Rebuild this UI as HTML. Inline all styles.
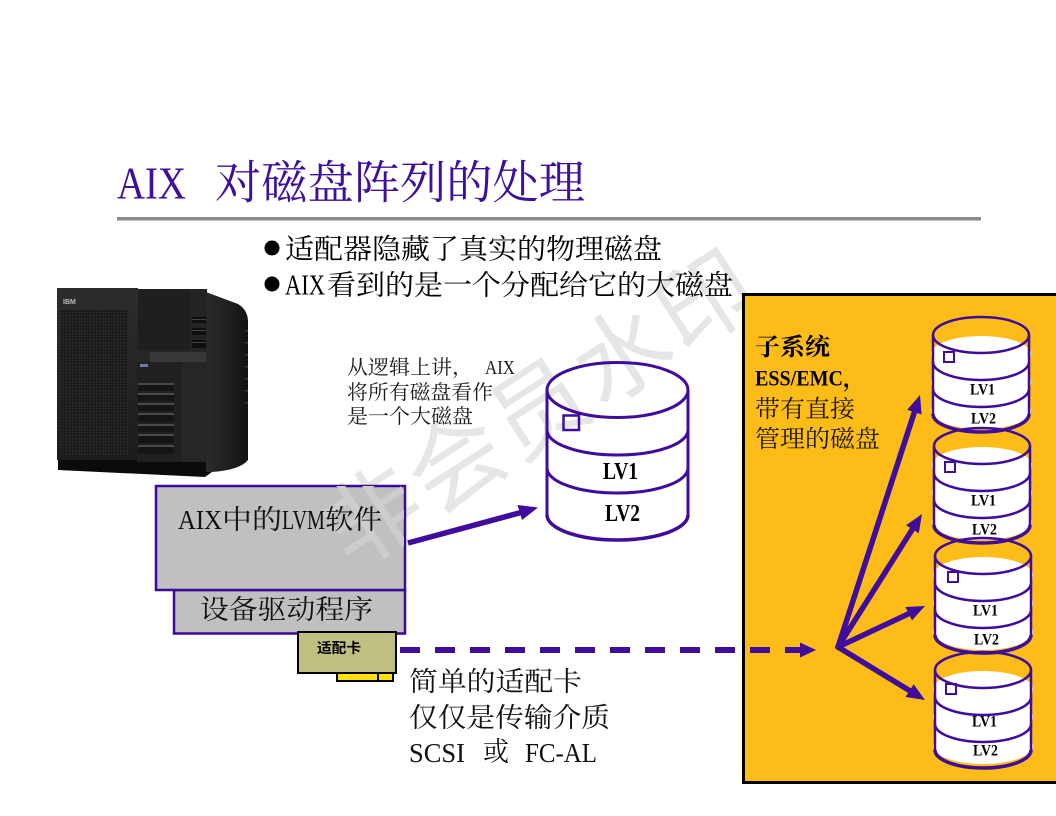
<!DOCTYPE html>
<html><head><meta charset="utf-8"><style>
html,body{margin:0;padding:0;background:#fff;}
svg{display:block}
</style></head><body>
<svg width="1056" height="816" viewBox="0 0 1056 816" xmlns="http://www.w3.org/2000/svg">
<defs>
 <pattern id="grille" width="3" height="3" patternUnits="userSpaceOnUse"><rect width="3" height="3" fill="#1b1b1b"/><rect width="1.5" height="1.5" fill="#2f2f2f"/></pattern>
 <clipPath id="boxclip"><rect x="156" y="486" width="248" height="147"/></clipPath>
 <linearGradient id="side" x1="0" x2="1"><stop offset="0" stop-color="#2b2b2b"/><stop offset="0.6" stop-color="#1e1e1e"/><stop offset="1" stop-color="#111"/></linearGradient>
 <linearGradient id="front" x1="0" x2="0" y1="0" y2="1"><stop offset="0" stop-color="#2c2c2c"/><stop offset="1" stop-color="#1c1c1c"/></linearGradient>
</defs>

<!-- watermark (background) -->
<text transform="translate(537,402) rotate(-33)" text-anchor="middle" dominant-baseline="central" font-family="'Noto Sans CJK SC',sans-serif" font-size="95" letter-spacing="4" fill="#e6e6e6">非会员水印</text>

<!-- title -->
<text x="117" y="183" dominant-baseline="central" font-family="'Liberation Serif',serif" font-size="46" fill="#3d0f9c" textLength="69" lengthAdjust="spacingAndGlyphs">AIX</text>
<text x="215" y="183" dominant-baseline="central" font-family="'Liberation Serif','Noto Serif CJK SC',serif" font-size="46" fill="#3d0f9c" textLength="370" lengthAdjust="spacingAndGlyphs">对磁盘阵列的处理</text>
<rect x="117" y="217" width="864" height="3.5" fill="#8a8a8a"/>

<!-- bullets -->
<circle cx="272" cy="248" r="7.5" fill="#000"/>
<text x="285" y="250" dominant-baseline="central" font-family="'Liberation Serif','Noto Serif CJK SC',serif" font-size="28" fill="#000" textLength="377" lengthAdjust="spacingAndGlyphs">适配器隐藏了真实的物理磁盘</text>
<circle cx="272" cy="284" r="7.5" fill="#000"/>
<text x="285" y="286" dominant-baseline="central" font-family="'Liberation Serif',serif" font-size="28" fill="#000" textLength="40" lengthAdjust="spacingAndGlyphs">AIX</text>
<text x="327" y="286" dominant-baseline="central" font-family="'Liberation Serif','Noto Serif CJK SC',serif" font-size="28" fill="#000" textLength="406" lengthAdjust="spacingAndGlyphs">看到的是一个分配给它的大磁盘</text>

<!-- server -->
<g>
 <path d="M58,458 L208,458 L212,472 L205,477 L58,470 Z" fill="#0b0b0b"/>
 <path d="M206,292 L238,304 Q248,310 248,322 L248,460 Q240,470 212,472 L206,472 Z" fill="url(#side)"/>
 <g fill="#3a3a3a">
  <rect x="245" y="330" width="3" height="1.5"/><rect x="245" y="342" width="3" height="1.5"/><rect x="245" y="354" width="3" height="1.5"/><rect x="245" y="366" width="3" height="1.5"/><rect x="245" y="378" width="3" height="1.5"/><rect x="245" y="390" width="3" height="1.5"/><rect x="245" y="402" width="3" height="1.5"/>
 </g>
 <rect x="57" y="288" width="81" height="172" fill="url(#front)"/>
 <rect x="60" y="310" width="68" height="145" fill="url(#grille)"/>
 <text x="63" y="304" font-family="'Liberation Sans',sans-serif" font-size="7" font-weight="bold" fill="#bbb">IBM</text>
 <rect x="138" y="289" width="52" height="61" fill="#1f1f1f"/>
 <rect x="190" y="289" width="17" height="64" fill="#232323"/>
 <rect x="192" y="317" width="14" height="6" fill="#0e0e0e"/>
 <rect x="192" y="328" width="14" height="7" fill="#0e0e0e"/>
 <rect x="192" y="340" width="14" height="8" fill="#0e0e0e"/>
 <rect x="192" y="319" width="14" height="1" fill="#444"/>
 <rect x="192" y="330" width="14" height="1" fill="#444"/>
 <rect x="192" y="342" width="14" height="1" fill="#444"/>
 <rect x="137" y="350" width="70" height="112" fill="#262626"/>
 <rect x="150" y="352" width="56" height="10" fill="#383838"/>
 <rect x="137" y="362" width="44" height="100" fill="#202020"/>
 <rect x="140" y="364" width="8" height="3" fill="#6a7aa0"/>
 <g fill="#4a4a4a">
  <rect x="138" y="383" width="36" height="2"/>
  <rect x="138" y="393" width="36" height="2"/>
  <rect x="138" y="403" width="36" height="2"/>
  <rect x="138" y="413" width="36" height="2"/>
  <rect x="138" y="424" width="36" height="2"/>
  <rect x="138" y="434" width="36" height="2"/>
  <rect x="138" y="445" width="36" height="2"/>
 </g>
 <g fill="#151515">
  <rect x="138" y="385" width="36" height="6"/>
  <rect x="138" y="395" width="36" height="6"/>
  <rect x="138" y="405" width="36" height="6"/>
  <rect x="138" y="415" width="36" height="7"/>
  <rect x="138" y="426" width="36" height="6"/>
  <rect x="138" y="436" width="36" height="7"/>
  <rect x="138" y="447" width="36" height="7"/>
 </g>
</g>

<!-- LVM box -->
<rect x="174" y="590" width="231" height="43.5" fill="#c0c0c0" stroke="#3a0a99" stroke-width="2.5"/>
<rect x="156" y="486" width="249" height="104" fill="#c0c0c0" stroke="#3a0a99" stroke-width="2.5"/>
<g clip-path="url(#boxclip)">
<text transform="translate(537,402) rotate(-33)" text-anchor="middle" dominant-baseline="central" font-family="'Noto Sans CJK SC',sans-serif" font-size="95" letter-spacing="4" fill="#cdcdcd">非会员水印</text>
</g>
<text x="178" y="520" dominant-baseline="central" font-family="'Liberation Serif',serif" font-size="27" fill="#111" textLength="44" lengthAdjust="spacingAndGlyphs">AIX</text>
<text x="222" y="520" dominant-baseline="central" font-family="'Liberation Serif','Noto Serif CJK SC',serif" font-size="27" fill="#111" textLength="60" lengthAdjust="spacingAndGlyphs">中的</text>
<text x="282" y="520" dominant-baseline="central" font-family="'Liberation Serif',serif" font-size="27" fill="#111" textLength="43" lengthAdjust="spacingAndGlyphs">LVM</text>
<text x="325" y="520" dominant-baseline="central" font-family="'Liberation Serif','Noto Serif CJK SC',serif" font-size="27" fill="#111" textLength="57" lengthAdjust="spacingAndGlyphs">软件</text>
<text x="200" y="610" dominant-baseline="central" font-family="'Liberation Serif','Noto Serif CJK SC',serif" font-size="27" fill="#111" textLength="173" lengthAdjust="spacingAndGlyphs">设备驱动程序</text>

<!-- adapter card -->
<rect x="337" y="672" width="56" height="9" fill="#ffe010" stroke="#000" stroke-width="2"/>
<line x1="378" y1="672" x2="378" y2="681" stroke="#000" stroke-width="2"/>
<rect x="298" y="632" width="98" height="41" fill="#c0c080" stroke="#000" stroke-width="2"/>
<text x="317" y="648" dominant-baseline="central" font-family="'Noto Sans CJK SC',sans-serif" font-size="14" font-weight="bold" fill="#000" textLength="44" lengthAdjust="spacingAndGlyphs">适配卡</text>

<!-- bottom texts -->
<text x="409" y="682" dominant-baseline="central" font-family="'Liberation Serif','Noto Serif CJK SC',serif" font-size="27" fill="#111" textLength="173" lengthAdjust="spacingAndGlyphs">简单的适配卡</text>
<text x="409" y="718" dominant-baseline="central" font-family="'Liberation Serif','Noto Serif CJK SC',serif" font-size="27" fill="#111" textLength="201" lengthAdjust="spacingAndGlyphs">仅仅是传输介质</text>
<text x="409" y="753" dominant-baseline="central" font-family="'Liberation Serif',serif" font-size="27" fill="#111" textLength="56" lengthAdjust="spacingAndGlyphs">SCSI</text>
<text x="483" y="752" dominant-baseline="central" font-family="'Liberation Serif','Noto Serif CJK SC',serif" font-size="27" fill="#111" textLength="26" lengthAdjust="spacingAndGlyphs">或</text>
<text x="525" y="753" dominant-baseline="central" font-family="'Liberation Serif',serif" font-size="27" fill="#111" textLength="72" lengthAdjust="spacingAndGlyphs">FC-AL</text>

<!-- logic text -->
<text x="347" y="368" dominant-baseline="central" font-family="'Liberation Serif','Noto Serif CJK SC',serif" font-size="20" fill="#1a1a1a" textLength="126" lengthAdjust="spacingAndGlyphs">从逻辑上讲，</text>
<text x="485" y="368" dominant-baseline="central" font-family="'Liberation Serif',serif" font-size="20" fill="#1a1a1a" textLength="30" lengthAdjust="spacingAndGlyphs">AIX</text>
<text x="347" y="393" dominant-baseline="central" font-family="'Liberation Serif','Noto Serif CJK SC',serif" font-size="20" fill="#1a1a1a" textLength="146" lengthAdjust="spacingAndGlyphs">将所有磁盘看作</text>
<text x="347" y="417" dominant-baseline="central" font-family="'Liberation Serif','Noto Serif CJK SC',serif" font-size="20" fill="#1a1a1a" textLength="126" lengthAdjust="spacingAndGlyphs">是一个大磁盘</text>

<!-- big disk -->
<g fill="none" stroke="#3f0c9c" stroke-width="3">
 <ellipse cx="617.5" cy="390" rx="70.5" ry="27.5"/>
 <line x1="547" y1="390" x2="547" y2="515"/>
 <line x1="688" y1="390" x2="688" y2="515"/>
 <path d="M547,430 A70.5,25 0 0,0 688,430"/>
 <path d="M547,468 A70.5,25 0 0,0 688,468"/>
 <path d="M547,515 A70.5,25 0 0,0 688,515" stroke-width="3.5"/>
 <rect x="563.5" y="415.5" width="15.5" height="14.5" stroke-width="2.5"/>
</g>
<text x="603" y="472" dominant-baseline="central" font-family="'Liberation Serif',serif" font-weight="bold" font-size="24" fill="#000" textLength="35" lengthAdjust="spacingAndGlyphs">LV1</text>
<text x="605" y="514" dominant-baseline="central" font-family="'Liberation Serif',serif" font-weight="bold" font-size="24" fill="#000" textLength="35" lengthAdjust="spacingAndGlyphs">LV2</text>

<!-- arrow LVM -> big disk -->
<line x1="408" y1="543" x2="521" y2="512.5" stroke="#3f0c9c" stroke-width="5.5"/>
<polygon points="538,507.5 522,520 517.5,505" fill="#3f0c9c"/>

<!-- right panel -->
<rect x="743.5" y="294.5" width="330" height="488" fill="#fdbc18" stroke="#000" stroke-width="3"/>

<!-- dashed line (over panel) -->
<line x1="400" y1="650" x2="802" y2="650" stroke="#3f0c9c" stroke-width="6" stroke-dasharray="20 15"/>
<polygon points="800,642.5 816,650 800,657.5" fill="#3f0c9c"/>

<text x="755" y="348" dominant-baseline="central" font-family="'Liberation Serif','Noto Serif CJK SC',serif" font-weight="bold" font-size="24" fill="#000" textLength="75" lengthAdjust="spacingAndGlyphs">子系统</text>
<text x="755" y="378" dominant-baseline="central" font-family="'Liberation Serif',serif" font-weight="bold" font-size="22" fill="#000" textLength="88" lengthAdjust="spacingAndGlyphs">ESS/EMC</text>
<text x="843" y="379" dominant-baseline="central" font-family="'Liberation Serif','Noto Serif CJK SC',serif" font-weight="bold" font-size="22" fill="#000">，</text>
<text x="755" y="410" dominant-baseline="central" font-family="'Liberation Serif','Noto Serif CJK SC',serif" font-size="24" fill="#1a1a00" textLength="100" lengthAdjust="spacingAndGlyphs">带有直接</text>
<text x="755" y="440" dominant-baseline="central" font-family="'Liberation Serif','Noto Serif CJK SC',serif" font-size="24" fill="#1a1a00" textLength="125" lengthAdjust="spacingAndGlyphs">管理的磁盘</text>

<!-- small disks -->
<g>
 <g fill="#fff">
  <rect x="933" y="352" width="96" height="62"/>
  <ellipse cx="981" cy="354" rx="50" ry="18"/>
  <ellipse cx="981" cy="382" rx="50" ry="18"/>
  <ellipse cx="981" cy="411" rx="50" ry="18"/>
 </g>
 <g fill="none" stroke="#3f0c9c" stroke-width="2.5">
  <ellipse cx="981" cy="335" rx="48" ry="18"/>
  <line x1="933" y1="335" x2="933" y2="414"/>
  <line x1="1029" y1="335" x2="1029" y2="414"/>
  <path d="M933,362 A48,18 0 0,0 1029,362"/>
  <path d="M933,389 A48,18 0 0,0 1029,389"/>
  <path d="M933,414 A48,18 0 0,0 1029,414" stroke-width="3.5"/>
  <rect x="944" y="352" width="10" height="10" stroke-width="2"/>
 </g>
 <text x="970" y="390" dominant-baseline="central" font-family="'Liberation Serif',serif" font-weight="bold" font-size="16" fill="#000" textLength="25" lengthAdjust="spacingAndGlyphs">LV1</text>
 <text x="971" y="419" dominant-baseline="central" font-family="'Liberation Serif',serif" font-weight="bold" font-size="16" fill="#000" textLength="25" lengthAdjust="spacingAndGlyphs">LV2</text>
</g>
<g>
 <g fill="#fff">
  <rect x="934" y="463" width="96" height="62"/>
  <ellipse cx="982" cy="465" rx="50" ry="18"/>
  <ellipse cx="982" cy="493" rx="50" ry="18"/>
  <ellipse cx="982" cy="522" rx="50" ry="18"/>
 </g>
 <g fill="none" stroke="#3f0c9c" stroke-width="2.5">
  <ellipse cx="982" cy="446" rx="48" ry="18"/>
  <line x1="934" y1="446" x2="934" y2="525"/>
  <line x1="1030" y1="446" x2="1030" y2="525"/>
  <path d="M934,473 A48,18 0 0,0 1030,473"/>
  <path d="M934,500 A48,18 0 0,0 1030,500"/>
  <path d="M934,525 A48,18 0 0,0 1030,525" stroke-width="3.5"/>
  <rect x="945" y="462" width="10" height="10" stroke-width="2"/>
 </g>
 <text x="971" y="501" dominant-baseline="central" font-family="'Liberation Serif',serif" font-weight="bold" font-size="16" fill="#000" textLength="25" lengthAdjust="spacingAndGlyphs">LV1</text>
 <text x="972" y="530" dominant-baseline="central" font-family="'Liberation Serif',serif" font-weight="bold" font-size="16" fill="#000" textLength="25" lengthAdjust="spacingAndGlyphs">LV2</text>
</g>
<g>
 <g fill="#fff">
  <rect x="935" y="573" width="96" height="62"/>
  <ellipse cx="983" cy="575" rx="50" ry="18"/>
  <ellipse cx="983" cy="603" rx="50" ry="18"/>
  <ellipse cx="983" cy="632" rx="50" ry="18"/>
 </g>
 <g fill="none" stroke="#3f0c9c" stroke-width="2.5">
  <ellipse cx="983" cy="556" rx="48" ry="18"/>
  <line x1="935" y1="556" x2="935" y2="635"/>
  <line x1="1031" y1="556" x2="1031" y2="635"/>
  <path d="M935,583 A48,18 0 0,0 1031,583"/>
  <path d="M935,610 A48,18 0 0,0 1031,610"/>
  <path d="M935,635 A48,18 0 0,0 1031,635" stroke-width="3.5"/>
  <rect x="948" y="572" width="10" height="10" stroke-width="2"/>
 </g>
 <text x="973" y="611" dominant-baseline="central" font-family="'Liberation Serif',serif" font-weight="bold" font-size="16" fill="#000" textLength="25" lengthAdjust="spacingAndGlyphs">LV1</text>
 <text x="974" y="640" dominant-baseline="central" font-family="'Liberation Serif',serif" font-weight="bold" font-size="16" fill="#000" textLength="25" lengthAdjust="spacingAndGlyphs">LV2</text>
</g>
<g>
 <g fill="#fff">
  <rect x="935" y="687" width="96" height="62"/>
  <ellipse cx="983" cy="689" rx="50" ry="18"/>
  <ellipse cx="983" cy="717" rx="50" ry="18"/>
  <ellipse cx="983" cy="746" rx="50" ry="18"/>
 </g>
 <g fill="none" stroke="#3f0c9c" stroke-width="2.5">
  <ellipse cx="983" cy="670" rx="48" ry="18"/>
  <line x1="935" y1="670" x2="935" y2="750"/>
  <line x1="1031" y1="670" x2="1031" y2="750"/>
  <path d="M935,697 A48,18 0 0,0 1031,697"/>
  <path d="M935,724 A48,18 0 0,0 1031,724"/>
  <path d="M935,750 A48,18 0 0,0 1031,750" stroke-width="3.5"/>
  <rect x="946" y="684" width="10" height="10" stroke-width="2"/>
 </g>
 <text x="972" y="722" dominant-baseline="central" font-family="'Liberation Serif',serif" font-weight="bold" font-size="16" fill="#000" textLength="25" lengthAdjust="spacingAndGlyphs">LV1</text>
 <text x="973" y="751" dominant-baseline="central" font-family="'Liberation Serif',serif" font-weight="bold" font-size="16" fill="#000" textLength="25" lengthAdjust="spacingAndGlyphs">LV2</text>
</g>

<!-- fan-out arrows -->
<g stroke="#3f0c9c" stroke-width="5.5" stroke-linecap="round">
 <line x1="838" y1="647" x2="914.4" y2="412.1"/>
 <line x1="838" y1="647" x2="912.4" y2="529.2"/>
 <line x1="838" y1="647" x2="908.7" y2="613.7"/>
 <line x1="838" y1="647" x2="909.6" y2="690.6"/>
</g>
<g fill="#3f0c9c">
 <polygon points="920,395 921.6,414.5 907.2,409.7"/>
 <polygon points="922,514 918.8,533.3 906,525.2"/>
 <polygon points="925,606 912,620.4 905.4,607"/>
 <polygon points="925,700 905.5,697 913.7,684.2"/>
</g>
</svg>
</body></html>
